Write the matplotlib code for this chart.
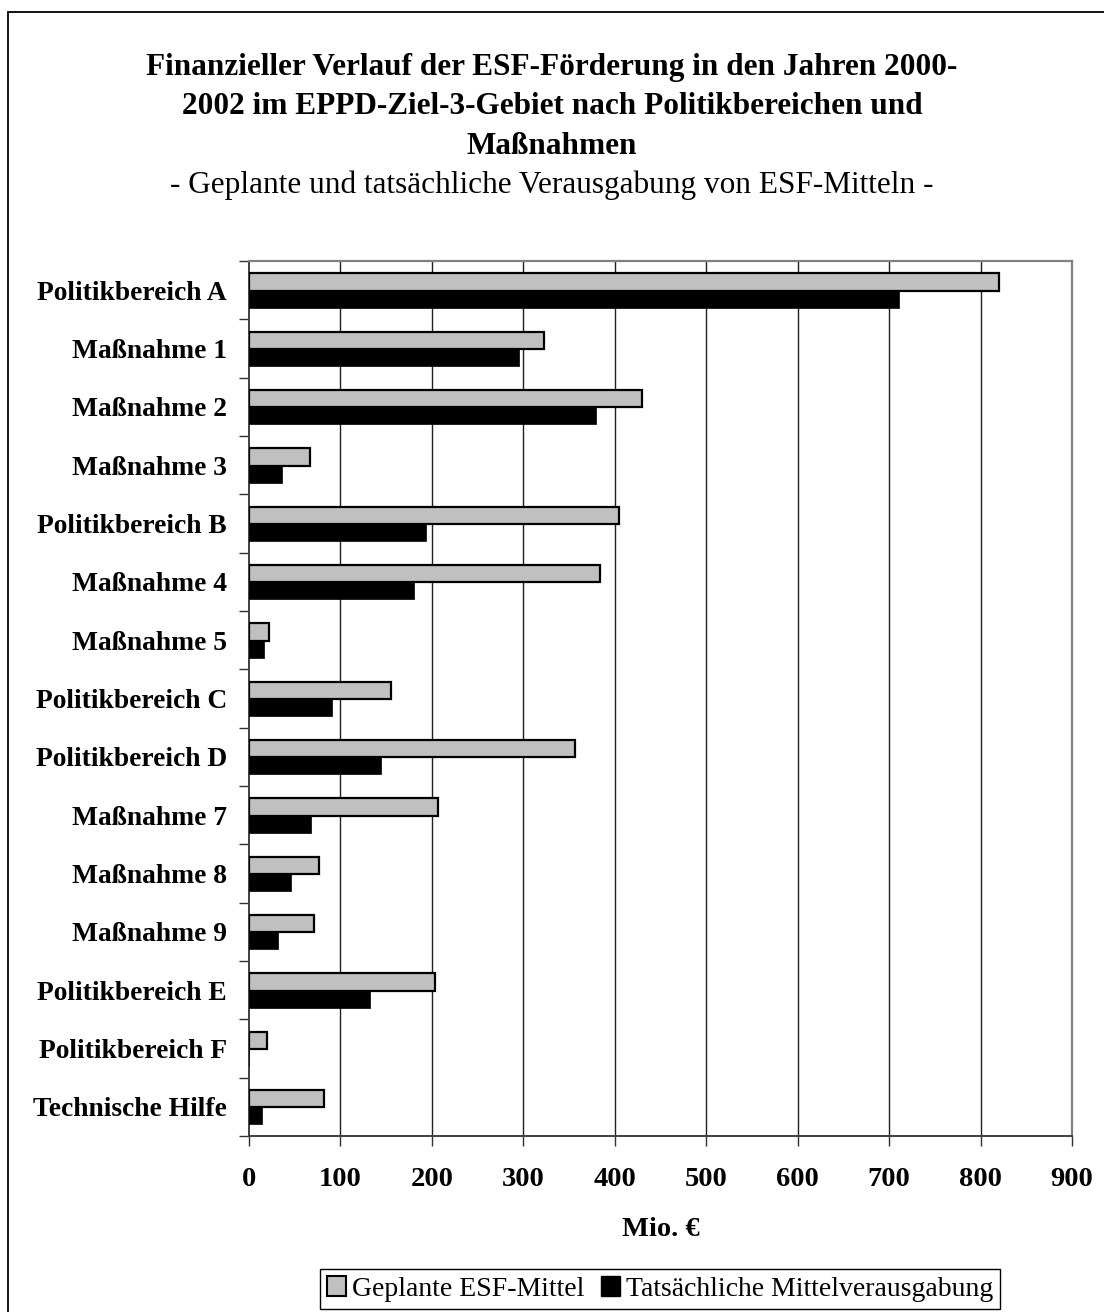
import numpy as np
import matplotlib
matplotlib.use("Agg")
import matplotlib.pyplot as plt
from matplotlib.patches import Rectangle, Patch

plt.rcParams['font.family'] = ['Liberation Serif', 'DejaVu Serif']

# Daten (Mio. EUR)
kategorien = ["Politikbereich A", "Maßnahme 1", "Maßnahme 2", "Maßnahme 3",
              "Politikbereich B", "Maßnahme 4", "Maßnahme 5", "Politikbereich C",
              "Politikbereich D", "Maßnahme 7", "Maßnahme 8", "Maßnahme 9",
              "Politikbereich E", "Politikbereich F", "Technische Hilfe"]
geplant = [820, 323, 430, 67, 405, 384, 22, 155, 357, 207, 77, 71, 203, 20, 82]
tatsaechlich = [711, 295, 380, 36, 194, 180, 16, 91, 144, 68, 46, 32, 132, 0, 14]
x_ticks = [0, 100, 200, 300, 400, 500, 600, 700, 800, 900]

W, H = 1104, 1312
fig = plt.figure(figsize=(W / 100, H / 100), dpi=100)
fig.patch.set_facecolor('white')

# Rahmen um das ganze Diagramm
fig.patches.append(Rectangle((8 / W, -0.05), 1.2, 1 - 12 / H + 0.05,
                             transform=fig.transFigure, fill=False,
                             edgecolor='black', linewidth=1.3))

ax = fig.add_axes([249 / W, (H - 1136) / H, 823 / W, 875 / H])

y = np.arange(len(kategorien))
h = 0.30
ax.barh(y + 0.15, tatsaechlich, height=h, color='black', edgecolor='black',
        linewidth=0.5, zorder=3)
ax.barh(y - 0.14, geplant, height=h, color='#c0c0c0', edgecolor='black',
        linewidth=1.6, zorder=4)

ax.set_xlim(0, 900)
ax.set_ylim(len(kategorien) - 0.5, -0.5)

ax.set_xticks(x_ticks)
ax.set_xticklabels([str(v) for v in x_ticks], fontsize=20.5, fontweight='bold')
ax.tick_params(axis='x', direction='out', length=7, width=1, color='#303030', pad=15)

ax.set_yticks(y)
ax.set_yticklabels(kategorien, fontsize=19.8, fontweight='bold')
ax.set_yticks(np.arange(-0.5, len(kategorien)), minor=True)
ax.tick_params(axis='y', which='major', length=0, pad=16)
ax.tick_params(axis='y', which='minor', direction='out', length=7, width=1, color='#303030')

for v in x_ticks[1:-1]:
    ax.axvline(v, color='#202020', linewidth=1.0, zorder=1)

for s in ['top', 'right']:
    ax.spines[s].set_color('#808080')
    ax.spines[s].set_linewidth(1.6)
for s in ['left', 'bottom']:
    ax.spines[s].set_color('#404040')
    ax.spines[s].set_linewidth(1.4)

ax.set_xlabel('Mio. €', fontsize=20.5, fontweight='bold', labelpad=18)

# Titel
titel = ["Finanzieller Verlauf der ESF-Förderung in den Jahren 2000-",
         "2002 im EPPD-Ziel-3-Gebiet nach Politikbereichen und",
         "Maßnahmen"]
for i, zeile in enumerate(titel):
    fig.text(0.5, 1 - (67 + i * 39.5) / H, zeile, ha='center', va='center',
             fontsize=22.5, fontweight='bold')
fig.text(0.5, 1 - 185 / H, "- Geplante und tatsächliche Verausgabung von ESF-Mitteln -",
         ha='center', va='center', fontsize=22.5)

handles = [Patch(facecolor='#c0c0c0', edgecolor='black', linewidth=1.5),
           Patch(facecolor='black', edgecolor='black')]
leg = fig.legend(handles, ["Geplante ESF-Mittel", "Tatsächliche Mittelverausgabung"],
                 loc='center', bbox_to_anchor=(660 / W, 1 - 1289 / H), ncol=2,
                 fontsize=20, frameon=True, fancybox=False, framealpha=1,
                 edgecolor='black', handlelength=0.7, handleheight=0.7,
                 handletextpad=0.2, columnspacing=0.6, borderpad=0.25,
                 borderaxespad=0)
leg.get_frame().set_linewidth(1.0)

fig.savefig('out.png', dpi=100)
